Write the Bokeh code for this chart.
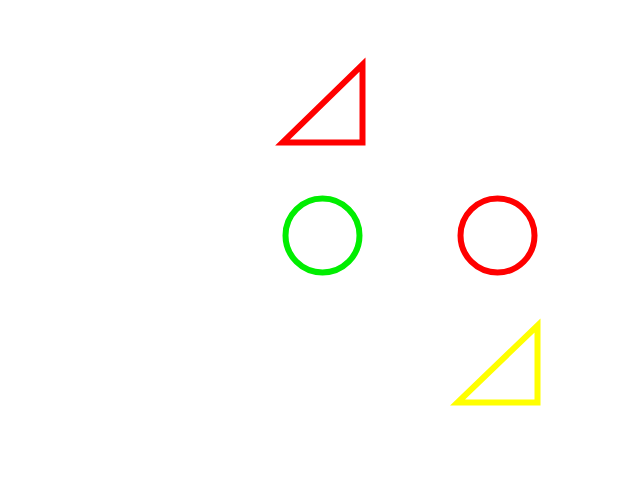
from bokeh.plotting import figure
from bokeh.models import Range1d
from bokeh.embed import file_html
from bokeh.resources import INLINE

# shapes in page pixel coordinates (y grows downward)
tri_xs = [[290, 370, 370], [465, 545, 545]]
tri_ys = [[150, 150, 72], [410, 410, 333]]
tri_colors = ["#ff0000", "#ffff00"]

circ_x = [330, 505]
circ_y = [243, 243]
circ_r = [37, 37]
circ_colors = ["#00ee00", "#ff0000"]

p = figure(width=624, height=464, output_backend="svg", toolbar_location=None,
           x_range=Range1d(8, 632), y_range=Range1d(472, 8), min_border=0)
p.axis.visible = False
p.grid.visible = False
p.outline_line_color = None

p.patches(xs=tri_xs, ys=tri_ys, fill_color=None, line_color=tri_colors,
          line_width=6, line_join="miter")
p.circle(x=circ_x, y=circ_y, radius=circ_r, fill_color=None,
         line_color=circ_colors, line_width=6)

open("out.html", "w").write(file_html(p, INLINE))
